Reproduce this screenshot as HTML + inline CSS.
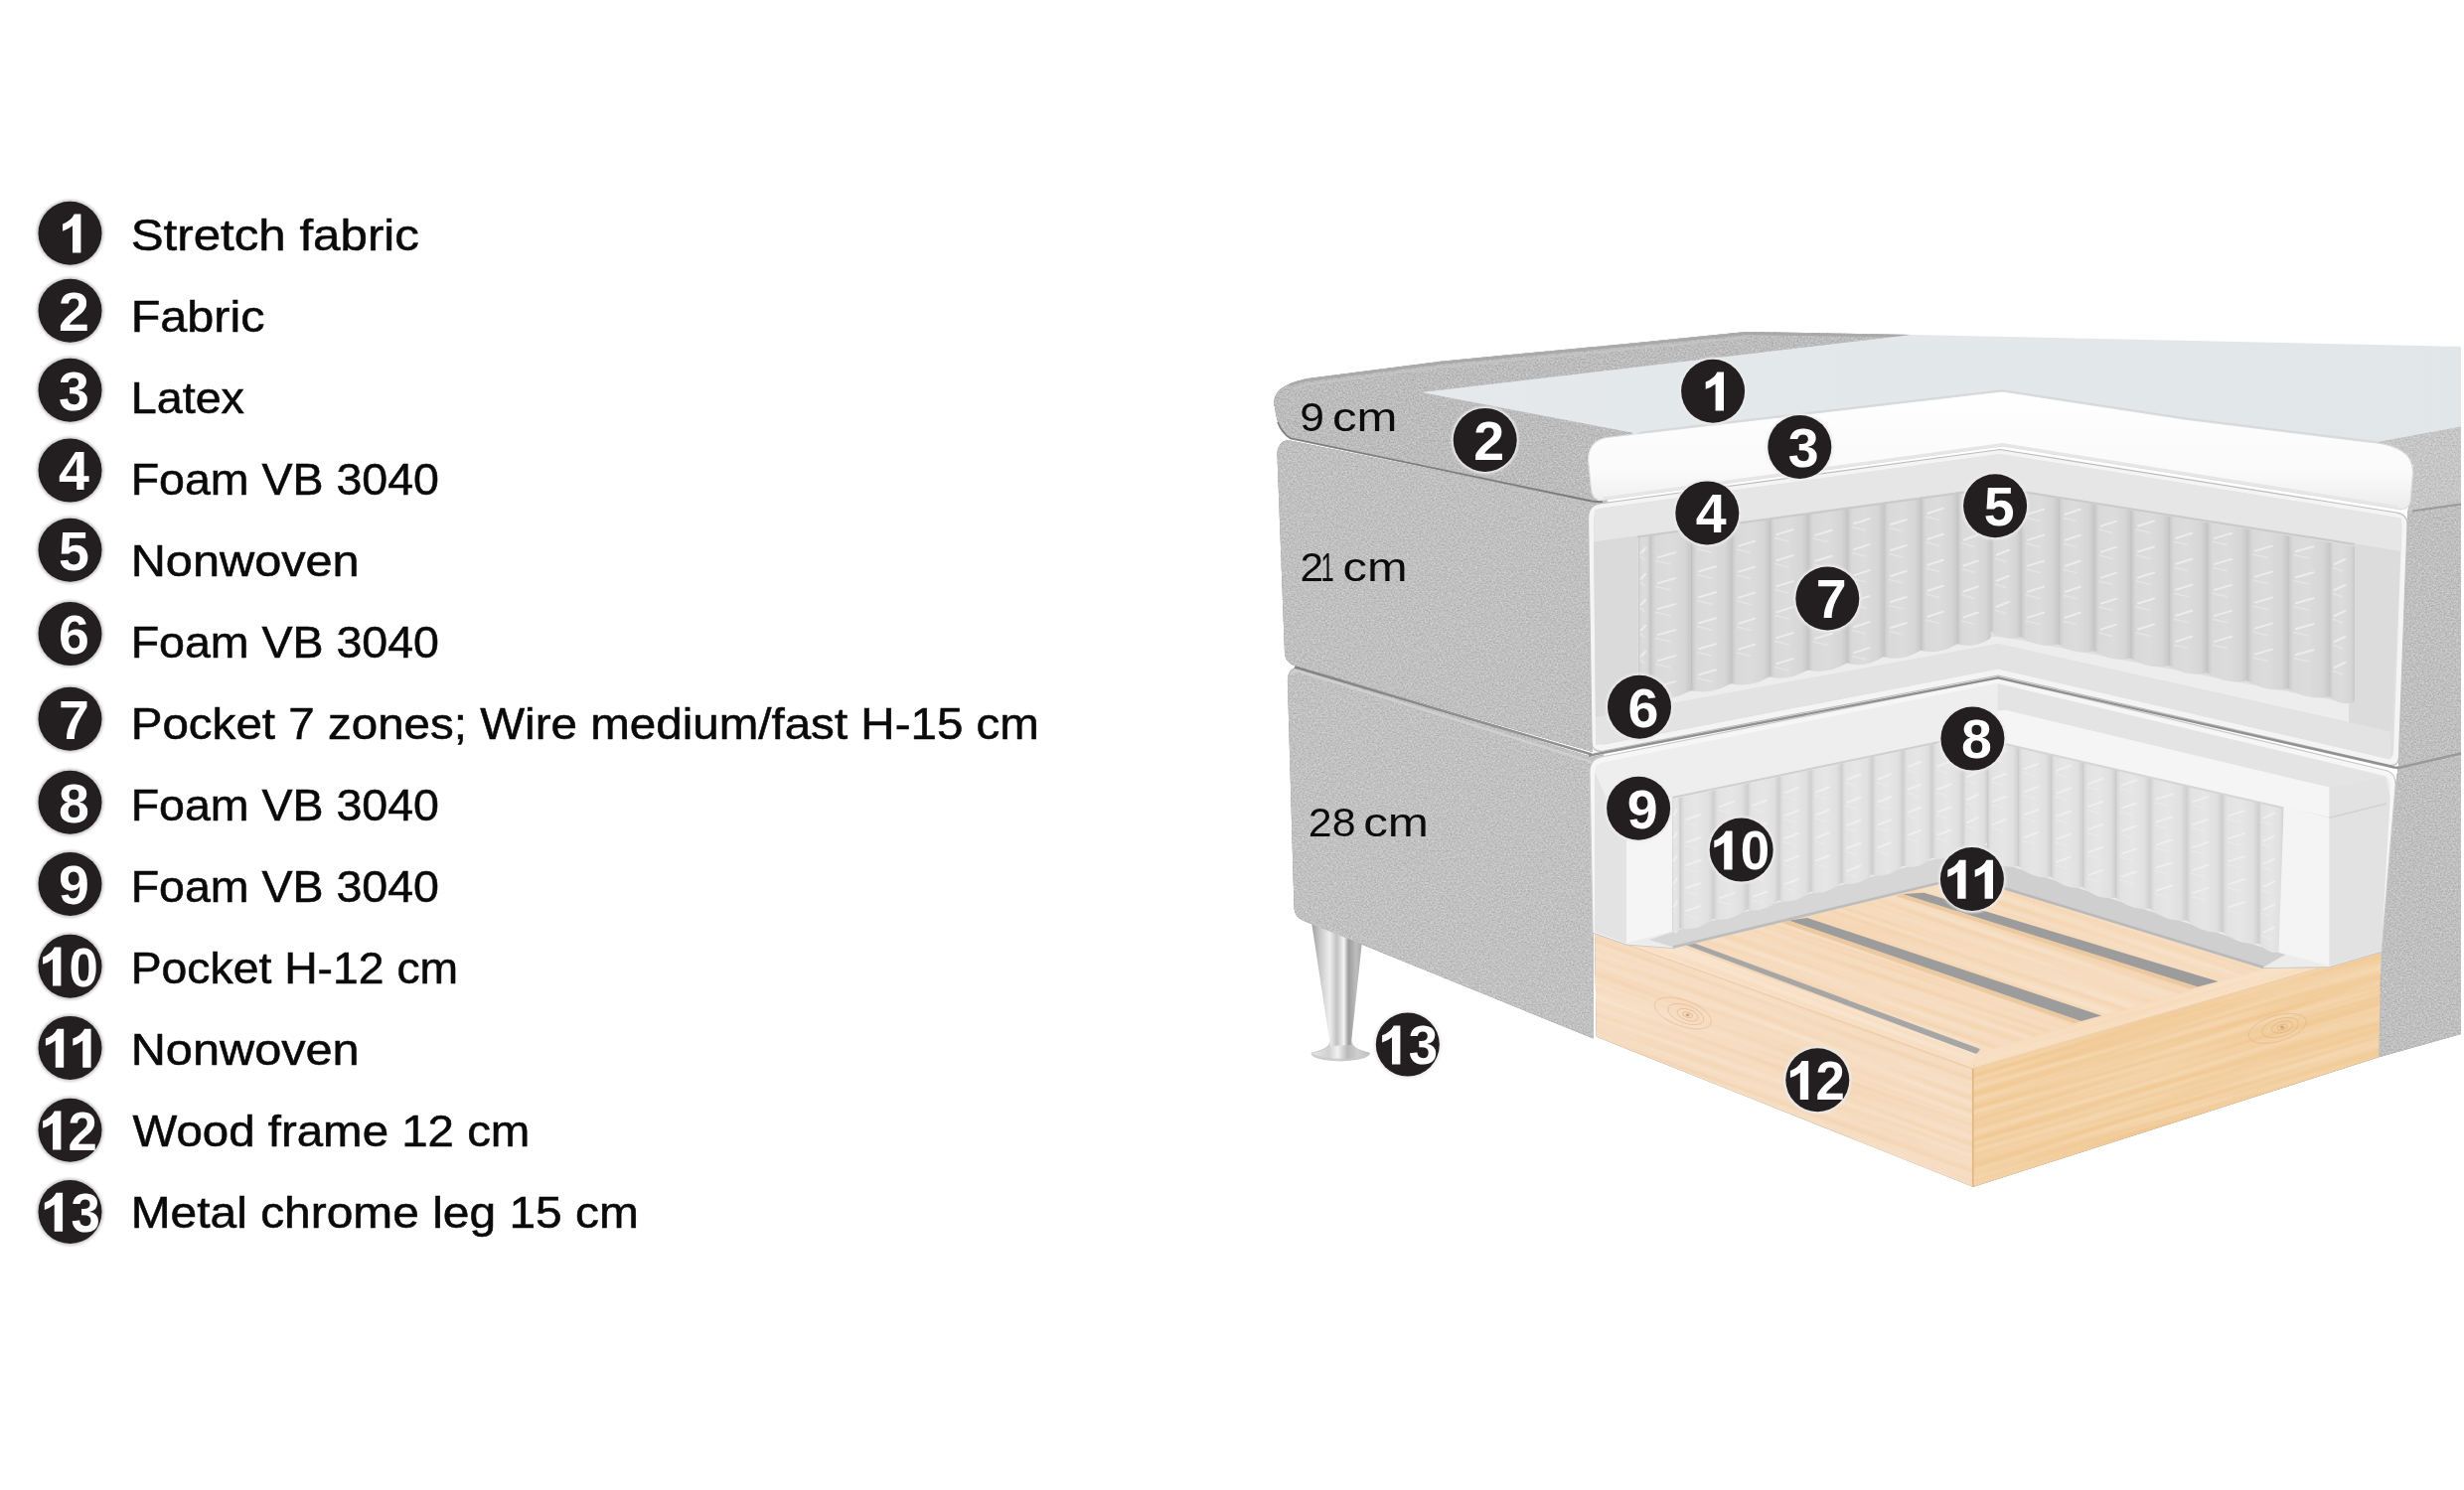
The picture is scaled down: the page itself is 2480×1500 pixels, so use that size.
<!DOCTYPE html>
<html lang="en">
<head>
<meta charset="utf-8">
<title>Bed construction</title>
<style>
html,body{margin:0;padding:0;background:#fff;}
body{width:2480px;height:1500px;overflow:hidden;font-family:"Liberation Sans",sans-serif;}
svg{display:block;}
.lbl{font-family:"Liberation Sans",sans-serif;font-size:45px;fill:#0a0a0a;stroke:#0a0a0a;stroke-width:0.55px;}
.dim{font-family:"Liberation Sans",sans-serif;font-size:41.5px;fill:#0c0c0c;}
.num{font-family:"Liberation Sans",sans-serif;font-weight:bold;font-size:55.5px;fill:#fff;text-anchor:middle;}
.num2{font-family:"Liberation Sans",sans-serif;font-weight:bold;font-size:55.5px;fill:#fff;text-anchor:start;}
.g1{fill:#fff;}
.disc{fill:#231f20;}
.halo{fill:#cfcfcf;}
.halo2{fill:#ececec;}
</style>
</head>
<body>
<svg width="2480" height="1500" viewBox="0 0 2480 1500">

<defs>
<filter id="nzFab" x="0" y="0" width="100%" height="100%" color-interpolation-filters="sRGB">
  <feTurbulence type="fractalNoise" baseFrequency="0.55 0.62" numOctaves="3" seed="7"/>
  <feColorMatrix type="matrix" values="0.5 0 0 0 0.25  0.5 0 0 0 0.25  0.5 0 0 0 0.25  0 0 0 0 1"/>
</filter>
<filter id="nzWood" x="0" y="0" width="100%" height="100%" color-interpolation-filters="sRGB">
  <feTurbulence type="fractalNoise" baseFrequency="0.004 0.16" numOctaves="2" seed="11"/>
  <feColorMatrix type="matrix" values="0.3 0 0 0 0.35  0.3 0 0 0 0.35  0.3 0 0 0 0.35  0 0 0 0 1"/>
</filter>
<filter id="soft" x="-5%" y="-5%" width="110%" height="110%"><feGaussianBlur stdDeviation="1.2"/></filter>
<filter id="soft05" x="-5%" y="-5%" width="110%" height="110%"><feGaussianBlur stdDeviation="0.6"/></filter>
<filter id="soft3" x="-5%" y="-5%" width="110%" height="110%"><feGaussianBlur stdDeviation="3"/></filter>
<linearGradient id="coilg" x1="0" y1="0" x2="1" y2="0">
  <stop offset="0" stop-color="#bdbdbd"/><stop offset="0.05" stop-color="#cdcdcd"/><stop offset="0.14" stop-color="#d9d9d9"/>
  <stop offset="0.5" stop-color="#dcdcdc"/><stop offset="0.85" stop-color="#d6d6d6"/>
  <stop offset="1" stop-color="#c8c8c8"/>
</linearGradient>
<linearGradient id="coilg2" x1="0" y1="0" x2="1" y2="0">
  <stop offset="0" stop-color="#c6c6c6"/><stop offset="0.05" stop-color="#d6d6d6"/><stop offset="0.14" stop-color="#e2e2e2"/>
  <stop offset="0.5" stop-color="#e6e6e6"/><stop offset="0.85" stop-color="#e0e0e0"/>
  <stop offset="1" stop-color="#d0d0d0"/>
</linearGradient>
<linearGradient id="legg" x1="0" y1="0" x2="1" y2="0">
  <stop offset="0" stop-color="#9f9f9f"/><stop offset="0.2" stop-color="#cfcfcf"/><stop offset="0.36" stop-color="#eeeeee"/>
  <stop offset="0.5" stop-color="#c2c2c2"/><stop offset="0.64" stop-color="#f4f4f4"/>
  <stop offset="0.73" stop-color="#9c9c9c"/><stop offset="0.88" stop-color="#bdbdbd"/><stop offset="1" stop-color="#a8a8a8"/>
</linearGradient>
<linearGradient id="footg" x1="0" y1="0" x2="1" y2="0">
  <stop offset="0" stop-color="#e9e9e9"/><stop offset="0.3" stop-color="#d0d0d0"/><stop offset="0.45" stop-color="#f1f1f1"/>
  <stop offset="0.62" stop-color="#b9b9b9"/><stop offset="0.8" stop-color="#cfcfcf"/><stop offset="1" stop-color="#bdbdbd"/>
</linearGradient>
<linearGradient id="latexg" x1="0" y1="0" x2="0" y2="1">
  <stop offset="0" stop-color="#ffffff"/><stop offset="0.7" stop-color="#fafafa"/><stop offset="1" stop-color="#ececec"/>
</linearGradient>
<linearGradient id="toppg" x1="0" y1="0" x2="0" y2="1">
  <stop offset="0" stop-color="#b4b4b4"/><stop offset="0.5" stop-color="#bcbcbc"/><stop offset="1" stop-color="#a8a8a8"/>
</linearGradient>
<linearGradient id="stretchg" x1="0" y1="0" x2="1" y2="0">
  <stop offset="0" stop-color="#e5e9ec"/><stop offset="1" stop-color="#e1e6e9"/>
</linearGradient>
</defs>
<g style="opacity:0.999">
<g id="bed">
<polygon points="2380.0,444.0 2477.0,429.0 2477.0,1041.0 2394.5,1064.3 2397.0,957.0 2411.0,790.0 2414.0,771.0 2423.0,520.0 2429.0,468.0" fill="#bfbfbf"/>
<polygon points="2380.0,444.0 2477.0,429.0 2477.0,507.5 2424.0,515.0 2429.0,468.0" fill="#c6c6c6"/>
<clipPath id="tc1">
<polygon points="2380.0,444.0 2477.0,429.0 2477.0,1041.0 2394.5,1064.3 2397.0,957.0 2411.0,790.0 2414.0,771.0 2423.0,520.0 2429.0,468.0" fill="#bfbfbf"/>
<polygon points="2380.0,444.0 2477.0,429.0 2477.0,507.5 2424.0,515.0 2429.0,468.0" fill="#c6c6c6"/>
</clipPath>
<g clip-path="url(#tc1)" style="mix-blend-mode:overlay"><rect x="2370" y="420" width="110" height="650" filter="url(#nzFab)"/></g>
<path d="M2428,514.5 L2477,507.5" stroke="#9a9a9a" stroke-width="2" fill="none"/>
<path d="M2414,773 L2477,758.5" stroke="#9a9a9a" stroke-width="2.5" fill="none"/>
<path d="M1339.5,1046 C1338.5,1055 1331,1057.5 1320,1060 Q1319.5,1066.5 1349,1068 Q1378.5,1066.5 1378.5,1060 C1368,1057.5 1360.5,1055 1359.5,1046 Z" fill="url(#footg)" stroke="#b5b5b5" stroke-width="0.6"/>
<path d="M1320,1060.5 Q1349,1071 1378.5,1060.5 Q1378,1066 1349,1068 Q1320,1066.5 1320,1060.5 Z" fill="#c9c9c9" opacity="0.8"/>
<polygon points="1320.0,928.0 1371.0,947.0 1359.8,1052.0 1339.0,1053.0" fill="url(#legg)"/>
<path d="M1282.5,409 C1281,396 1288,387 1316,381 L1450,363.7 L1515,357.5 L1642.5,345.5 L1757,334 L1924,337 L1924,345 L1430.5,395 L1648,435 L1640,437 L1625,499.5 L1602,504.5 L1298,441 Q1285,432 1283,409 Z" fill="#bcbcbc"/>
<path d="M1285.5,458 Q1285,445 1296,443 L1602,505 L1618,503.5 L1618,516 L1603,520 L1603,757 L1305,671 Q1294,668 1293,658 Z" fill="#c0c0c0"/>
<path d="M1296,688 Q1295,673 1306,671.5 L1602,762 L1614,759.5 L1614,775 L1603.5,780 L1603.5,1045.5 L1311,926.5 Q1303,923 1302.5,914 Z" fill="#c1c1c1"/>
<clipPath id="tc2">
<path d="M1282.5,409 C1281,396 1288,387 1316,381 L1450,363.7 L1515,357.5 L1642.5,345.5 L1757,334 L1924,337 L1924,345 L1430.5,395 L1648,435 L1640,437 L1625,499.5 L1602,504.5 L1298,441 Q1285,432 1283,409 Z" fill="#bcbcbc"/>
<path d="M1285.5,458 Q1285,445 1296,443 L1602,505 L1618,503.5 L1618,516 L1603,520 L1603,757 L1305,671 Q1294,668 1293,658 Z" fill="#c0c0c0"/>
<path d="M1296,688 Q1295,673 1306,671.5 L1602,762 L1614,759.5 L1614,775 L1603.5,780 L1603.5,1045.5 L1311,926.5 Q1303,923 1302.5,914 Z" fill="#c1c1c1"/>
</clipPath>
<g clip-path="url(#tc2)" style="mix-blend-mode:overlay"><rect x="1275" y="325" width="660" height="730" filter="url(#nzFab)"/></g>
<path d="M1298,388 Q1306,384 1318,382.5 L1450,365.5 L1515,359.3 L1642.5,347.3 L1757,335.8 L1920,338.5" stroke="#a8a8a8" stroke-width="2.6" fill="none" opacity="0.95"/>
<path d="M1302,392 Q1310,388 1320,386.5 L1450,369.5 L1515,363.3 L1642.5,351.3 L1757,339.8" stroke="#c6c6c6" stroke-width="2" fill="none" opacity="0.8"/>
<path d="M1286,425 Q1290,436 1299,441.5 L1602,504.5 L1613,505.5" stroke="#6c6c6c" stroke-width="1.8" fill="none" opacity="0.8" filter="url(#soft05)"/>
<path d="M1303,671.5 L1602,759.5" stroke="#767676" stroke-width="2.6" fill="none" opacity="0.8" filter="url(#soft05)"/>
<path d="M1299,679 Q1300,675.5 1307,675.5 L1602,767" stroke="#d2d2d2" stroke-width="2.5" fill="none" opacity="0.8"/>
<polygon points="1430.5,395.0 1924.0,337.0 2477.0,349.0 2477.0,429.5 2387.5,446.0 2200.0,423.0 2015.5,394.5 1650.0,437.0" fill="url(#stretchg)"/>
<path d="M1650,436 L2015.5,393.5 L2200,421.7 L2392,445.5" stroke="#d3d8d9" stroke-width="2.5" fill="none"/>
<polygon points="1640.0,945.0 1953.0,888.5 2010.0,878.0 2018.0,894.6 2278.0,973.7 2345.0,975.0 2396.0,946.0 1987.0,1066.0 1688.0,957.0" fill="#f6dbbd"/>
<clipPath id="tc3">
<polygon points="1640.0,945.0 1953.0,888.5 2010.0,878.0 2018.0,894.6 2278.0,973.7 2345.0,975.0 2396.0,946.0 1987.0,1066.0 1688.0,957.0" fill="#f6dbbd"/>
</clipPath>
<g clip-path="url(#tc3)" style="mix-blend-mode:overlay"><rect x="1560" y="720" width="920" height="520" transform="rotate(18.5 2020.0 980.0)" filter="url(#nzWood)"/></g>
<polygon points="1800.0,926.5 1819.0,924.0 2115.0,1022.4 2094.4,1028.0" fill="#9c9c9c"/>
<polygon points="1914.8,900.0 1936.5,898.8 2232.6,987.9 2212.0,993.5" fill="#9c9c9c"/>
<polygon points="1690.7,949.0 1700.0,947.5 1993.0,1056.0 1989.4,1061.3" fill="#a6a6a6"/>
<polygon points="1793.0,929.0 1800.0,926.5 2094.4,1028.0 2088.0,1030.2" fill="#e9c49a" opacity="0.8"/>
<polygon points="1907.5,902.0 1914.8,900.0 2212.0,993.5 2205.0,995.5" fill="#e9c49a" opacity="0.8"/>
<polygon points="1605.0,939.2 1986.2,1075.5 1986.2,1195.0 1606.7,1043.8" fill="#f6dcc0"/>
<polygon points="1605.0,939.7 1985.7,1076.0 1989.4,1061.3 1690.7,952.3 1606.0,921.4" fill="#f8e1c8"/>
<clipPath id="tc4">
<polygon points="1605.0,939.2 1986.2,1075.5 1986.2,1195.0 1606.7,1043.8" fill="#f6dcc0"/>
<polygon points="1605.0,939.7 1985.7,1076.0 1989.4,1061.3 1690.7,952.3 1606.0,921.4" fill="#f8e1c8"/>
</clipPath>
<g clip-path="url(#tc4)" style="mix-blend-mode:overlay"><rect x="1500" y="780" width="600" height="560" transform="rotate(19.7 1800.0 1060.0)" filter="url(#nzWood)"/></g>
<polygon points="1985.7,1075.5 2396.4,956.0 2394.5,1064.3 1985.7,1195.0" fill="#f3d0a2"/>
<polygon points="1985.7,1076.5 2396.4,957.0 2396.0,940.5 1988.5,1060.7" fill="#f8dfc2"/>
<clipPath id="tc5">
<polygon points="1985.7,1075.5 2396.4,956.0 2394.5,1064.3 1985.7,1195.0" fill="#f3d0a2"/>
<polygon points="1985.7,1076.5 2396.4,957.0 2396.0,940.5 1988.5,1060.7" fill="#f8dfc2"/>
</clipPath>
<g clip-path="url(#tc5)" style="mix-blend-mode:overlay"><rect x="1900" y="800" width="600" height="520" transform="rotate(-16.2 2200.0 1060.0)" filter="url(#nzWood)"/></g>
<path d="M1985.7,1075.5 L1985.7,1195" stroke="#e0b27c" stroke-width="1.5"/>
<path d="M1606,939.6 L1985.7,1075.8 L2396.4,956.6" stroke="#ecc9a0" stroke-width="1.2" fill="none" opacity="0.8"/>
<g transform="rotate(19.7 1698.6 1021.7)" fill="none" stroke="#dca878" opacity="0.55">
<ellipse cx="1698.6" cy="1021.7" rx="5" ry="2.6" stroke-width="1"/>
<ellipse cx="1698.6" cy="1021.7" rx="11" ry="5.5" stroke-width="0.9"/>
<ellipse cx="1696.6" cy="1021.7" rx="19" ry="9" stroke-width="0.8"/>
<ellipse cx="1693.6" cy="1021.7" rx="30" ry="13" stroke-width="0.7"/>
</g>
<ellipse cx="1698.6" cy="1021.7" rx="2" ry="1.5" fill="#b98e74" opacity="0.7"/>
<g transform="rotate(-16.2 2297.0 1034.0)" fill="none" stroke="#dca878" opacity="0.55">
<ellipse cx="2297.0" cy="1034.0" rx="5" ry="2.6" stroke-width="1"/>
<ellipse cx="2297.0" cy="1034.0" rx="11" ry="5.5" stroke-width="0.9"/>
<ellipse cx="2295.0" cy="1034.0" rx="19" ry="9" stroke-width="0.8"/>
<ellipse cx="2292.0" cy="1034.0" rx="30" ry="13" stroke-width="0.7"/>
</g>
<ellipse cx="2297.0" cy="1034.0" rx="2" ry="1.5" fill="#b98e74" opacity="0.7"/>
<path d="M1600,778 Q1600,764 1612,762 L2010.5,682.5 L2403,776 Q2412,779 2411,792 L2397,958 L2344.5,973.5 L2278,974.5 L2018,895 L2010,879 L1953,889 L1684,954.5 L1637,951 L1603,939 Z" fill="#f6f6f6" stroke="#c9c9c9" stroke-width="1.2"/>
<path d="M1605,780 Q1605,769 1614,767.5 L2010.5,688 L2400,781 Q2406,783 2405.7,792 L2396,957 L2344.5,972.4 L2278,973.7 L2018,894.6 L2010,878 L1953,888.5 L1684,953.4 L1637,949.6 L1605,938 Z" fill="#ececec"/>
<polygon points="2010.5,688.0 2401.0,781.5 2344.5,792.6 2018.0,714.8 2010.5,716.0" fill="#e4e4e4"/>
<polygon points="2010.0,716.0 2018.0,714.8 2344.5,792.6 2344.5,823.2 2018.0,748.0 2010.0,746.0" fill="#f5f5f5"/>
<polygon points="1606.0,770.0 2010.5,688.0 2010.5,734.0 1683.0,802.0 1637.0,847.0 1606.0,780.0" fill="#eeeeee"/>
<polygon points="1660.0,946.0 1690.0,936.0 2005.0,849.0 2005.0,876.0 1684.0,953.4" fill="#d6d6d6"/>
<polygon points="2005.0,866.0 2300.0,961.0 2278.0,973.7 2005.0,890.0" fill="#cfcfcf"/>
<path d="M1684,953.4 L2005,876" stroke="#bdbdbd" stroke-width="2.5" fill="none"/>
<path d="M2010,892 L2278,973.7" stroke="#b9b9b9" stroke-width="2.5" fill="none"/>
<path d="M1683.0,804.6 L1690.6,803.0 L1690.6,934.4 Q1686.8,943.8 1683.0,936.5 Z" fill="url(#coilg2)"/>
<path d="M1684.5,820.6 l3.2,-5.0 M1684.5,843.6 l3.2,-5.0 M1684.5,866.6 l3.2,-5.0 M1684.5,889.6 l3.2,-5.0 M1684.5,912.6 l3.2,-5.0" stroke="#f1f1f1" stroke-width="2" stroke-linecap="round" fill="none" opacity="0.75"/>
<path d="M1684.2,824.1 l2.6,3.2 M1684.2,847.1 l2.6,3.2 M1684.2,870.1 l2.6,3.2 M1684.2,893.1 l2.6,3.2 M1684.2,916.1 l2.6,3.2" stroke="#ededed" stroke-width="1.8" stroke-linecap="round" fill="none" opacity="0.5"/>
<path d="M1690.6,803.0 L1724.4,795.9 L1724.4,925.0 Q1707.5,938.1 1690.6,934.4 Z" fill="url(#coilg2)"/>
<path d="M1697.4,825.0 l14.2,-5.0 M1697.4,848.0 l14.2,-5.0 M1697.4,871.0 l14.2,-5.0 M1697.4,894.0 l14.2,-5.0 M1697.4,917.0 l14.2,-5.0" stroke="#f1f1f1" stroke-width="2" stroke-linecap="round" fill="none" opacity="0.75"/>
<path d="M1696.0,828.5 l11.5,3.2 M1696.0,851.5 l11.5,3.2 M1696.0,874.5 l11.5,3.2 M1696.0,897.5 l11.5,3.2 M1696.0,920.5 l11.5,3.2" stroke="#ededed" stroke-width="1.8" stroke-linecap="round" fill="none" opacity="0.5"/>
<path d="M1724.4,795.9 L1758.3,788.7 L1758.3,915.5 Q1741.3,928.6 1724.4,925.0 Z" fill="url(#coilg2)"/>
<path d="M1731.2,811.9 l14.2,-5.0 M1731.2,834.9 l14.2,-5.0 M1731.2,857.9 l14.2,-5.0 M1731.2,880.9 l14.2,-5.0 M1731.2,903.9 l14.2,-5.0" stroke="#f1f1f1" stroke-width="2" stroke-linecap="round" fill="none" opacity="0.75"/>
<path d="M1729.8,815.4 l11.5,3.2 M1729.8,838.4 l11.5,3.2 M1729.8,861.4 l11.5,3.2 M1729.8,884.4 l11.5,3.2 M1729.8,907.4 l11.5,3.2" stroke="#ededed" stroke-width="1.8" stroke-linecap="round" fill="none" opacity="0.5"/>
<path d="M1758.3,788.7 L1790.2,782.0 L1790.2,906.6 Q1774.2,919.5 1758.3,915.5 Z" fill="url(#coilg2)"/>
<path d="M1764.7,810.7 l13.4,-5.0 M1764.7,833.7 l13.4,-5.0 M1764.7,856.7 l13.4,-5.0 M1764.7,879.7 l13.4,-5.0 M1764.7,902.7 l13.4,-5.0" stroke="#f1f1f1" stroke-width="2" stroke-linecap="round" fill="none" opacity="0.75"/>
<path d="M1763.4,814.2 l10.8,3.2 M1763.4,837.2 l10.8,3.2 M1763.4,860.2 l10.8,3.2 M1763.4,883.2 l10.8,3.2 M1763.4,906.2 l10.8,3.2" stroke="#ededed" stroke-width="1.8" stroke-linecap="round" fill="none" opacity="0.5"/>
<path d="M1790.2,782.0 L1822.2,775.3 L1822.2,897.7 Q1806.2,910.6 1790.2,906.6 Z" fill="url(#coilg2)"/>
<path d="M1796.6,798.0 l13.4,-5.0 M1796.6,821.0 l13.4,-5.0 M1796.6,844.0 l13.4,-5.0 M1796.6,867.0 l13.4,-5.0 M1796.6,890.0 l13.4,-5.0" stroke="#f1f1f1" stroke-width="2" stroke-linecap="round" fill="none" opacity="0.75"/>
<path d="M1795.3,801.5 l10.9,3.2 M1795.3,824.5 l10.9,3.2 M1795.3,847.5 l10.9,3.2 M1795.3,870.5 l10.9,3.2 M1795.3,893.5 l10.9,3.2" stroke="#ededed" stroke-width="1.8" stroke-linecap="round" fill="none" opacity="0.5"/>
<path d="M1822.2,775.3 L1853.2,768.7 L1853.2,889.1 Q1837.7,901.8 1822.2,897.7 Z" fill="url(#coilg2)"/>
<path d="M1828.4,797.3 l13.0,-5.0 M1828.4,820.3 l13.0,-5.0 M1828.4,843.3 l13.0,-5.0 M1828.4,866.3 l13.0,-5.0" stroke="#f1f1f1" stroke-width="2" stroke-linecap="round" fill="none" opacity="0.75"/>
<path d="M1827.2,800.8 l10.5,3.2 M1827.2,823.8 l10.5,3.2 M1827.2,846.8 l10.5,3.2 M1827.2,869.8 l10.5,3.2" stroke="#ededed" stroke-width="1.8" stroke-linecap="round" fill="none" opacity="0.5"/>
<path d="M1853.2,768.7 L1884.2,762.2 L1884.2,880.5 Q1868.7,893.2 1853.2,889.1 Z" fill="url(#coilg2)"/>
<path d="M1859.4,784.7 l13.0,-5.0 M1859.4,807.7 l13.0,-5.0 M1859.4,830.7 l13.0,-5.0 M1859.4,853.7 l13.0,-5.0 M1859.4,876.7 l13.0,-5.0" stroke="#f1f1f1" stroke-width="2" stroke-linecap="round" fill="none" opacity="0.75"/>
<path d="M1858.2,788.2 l10.5,3.2 M1858.2,811.2 l10.5,3.2 M1858.2,834.2 l10.5,3.2 M1858.2,857.2 l10.5,3.2 M1858.2,880.2 l10.5,3.2" stroke="#ededed" stroke-width="1.8" stroke-linecap="round" fill="none" opacity="0.5"/>
<path d="M1884.2,762.2 L1915.2,755.7 L1915.2,871.8 Q1899.7,884.5 1884.2,880.5 Z" fill="url(#coilg2)"/>
<path d="M1890.4,784.2 l13.0,-5.0 M1890.4,807.2 l13.0,-5.0 M1890.4,830.2 l13.0,-5.0 M1890.4,853.2 l13.0,-5.0" stroke="#f1f1f1" stroke-width="2" stroke-linecap="round" fill="none" opacity="0.75"/>
<path d="M1889.2,787.7 l10.5,3.2 M1889.2,810.7 l10.5,3.2 M1889.2,833.7 l10.5,3.2 M1889.2,856.7 l10.5,3.2" stroke="#ededed" stroke-width="1.8" stroke-linecap="round" fill="none" opacity="0.5"/>
<path d="M1915.2,755.7 L1944.4,749.5 L1944.4,863.7 Q1929.8,876.2 1915.2,871.8 Z" fill="url(#coilg2)"/>
<path d="M1921.0,771.7 l12.3,-5.0 M1921.0,794.7 l12.3,-5.0 M1921.0,817.7 l12.3,-5.0 M1921.0,840.7 l12.3,-5.0" stroke="#f1f1f1" stroke-width="2" stroke-linecap="round" fill="none" opacity="0.75"/>
<path d="M1919.9,775.2 l9.9,3.2 M1919.9,798.2 l9.9,3.2 M1919.9,821.2 l9.9,3.2 M1919.9,844.2 l9.9,3.2" stroke="#ededed" stroke-width="1.8" stroke-linecap="round" fill="none" opacity="0.5"/>
<path d="M1944.4,749.5 L1975.4,743.0 L1975.4,855.1 Q1959.9,867.8 1944.4,863.7 Z" fill="url(#coilg2)"/>
<path d="M1950.6,771.5 l13.0,-5.0 M1950.6,794.5 l13.0,-5.0 M1950.6,817.5 l13.0,-5.0 M1950.6,840.5 l13.0,-5.0" stroke="#f1f1f1" stroke-width="2" stroke-linecap="round" fill="none" opacity="0.75"/>
<path d="M1949.4,775.0 l10.5,3.2 M1949.4,798.0 l10.5,3.2 M1949.4,821.0 l10.5,3.2 M1949.4,844.0 l10.5,3.2" stroke="#ededed" stroke-width="1.8" stroke-linecap="round" fill="none" opacity="0.5"/>
<path d="M1975.4,743.0 L2000.0,737.8 L2000.0,848.2 Q1987.7,860.0 1975.4,855.1 Z" fill="url(#coilg2)"/>
<path d="M1980.3,759.0 l10.3,-5.0 M1980.3,782.0 l10.3,-5.0 M1980.3,805.0 l10.3,-5.0 M1980.3,828.0 l10.3,-5.0" stroke="#f1f1f1" stroke-width="2" stroke-linecap="round" fill="none" opacity="0.75"/>
<path d="M1979.3,762.5 l8.4,3.2 M1979.3,785.5 l8.4,3.2 M1979.3,808.5 l8.4,3.2 M1979.3,831.5 l8.4,3.2" stroke="#ededed" stroke-width="1.8" stroke-linecap="round" fill="none" opacity="0.5"/>
<path d="M2000.0,744.9 L2030.9,752.0 L2030.9,872.1 Q2015.5,875.6 2000.0,862.2 Z" fill="url(#coilg2)"/>
<path d="M2006.2,760.9 l13.0,-5.0 M2006.2,783.9 l13.0,-5.0 M2006.2,806.9 l13.0,-5.0 M2006.2,829.9 l13.0,-5.0" stroke="#f1f1f1" stroke-width="2" stroke-linecap="round" fill="none" opacity="0.75"/>
<path d="M2004.9,764.4 l10.5,3.2 M2004.9,787.4 l10.5,3.2 M2004.9,810.4 l10.5,3.2 M2004.9,833.4 l10.5,3.2" stroke="#ededed" stroke-width="1.8" stroke-linecap="round" fill="none" opacity="0.5"/>
<path d="M2030.9,752.0 L2064.0,759.6 L2064.0,882.8 Q2047.5,885.8 2030.9,872.1 Z" fill="url(#coilg2)"/>
<path d="M2037.5,774.0 l13.9,-5.0 M2037.5,797.0 l13.9,-5.0 M2037.5,820.0 l13.9,-5.0 M2037.5,843.0 l13.9,-5.0" stroke="#f1f1f1" stroke-width="2" stroke-linecap="round" fill="none" opacity="0.75"/>
<path d="M2036.2,777.5 l11.3,3.2 M2036.2,800.5 l11.3,3.2 M2036.2,823.5 l11.3,3.2 M2036.2,846.5 l11.3,3.2" stroke="#ededed" stroke-width="1.8" stroke-linecap="round" fill="none" opacity="0.5"/>
<path d="M2064.0,759.6 L2095.9,766.9 L2095.9,893.0 Q2079.9,896.3 2064.0,882.8 Z" fill="url(#coilg2)"/>
<path d="M2070.4,775.6 l13.4,-5.0 M2070.4,798.6 l13.4,-5.0 M2070.4,821.6 l13.4,-5.0 M2070.4,844.6 l13.4,-5.0 M2070.4,867.6 l13.4,-5.0" stroke="#f1f1f1" stroke-width="2" stroke-linecap="round" fill="none" opacity="0.75"/>
<path d="M2069.1,779.1 l10.8,3.2 M2069.1,802.1 l10.8,3.2 M2069.1,825.1 l10.8,3.2 M2069.1,848.1 l10.8,3.2 M2069.1,871.1 l10.8,3.2" stroke="#ededed" stroke-width="1.8" stroke-linecap="round" fill="none" opacity="0.5"/>
<path d="M2095.9,766.9 L2129.0,774.5 L2129.0,903.6 Q2112.4,906.7 2095.9,893.0 Z" fill="url(#coilg2)"/>
<path d="M2102.5,788.9 l13.9,-5.0 M2102.5,811.9 l13.9,-5.0 M2102.5,834.9 l13.9,-5.0 M2102.5,857.9 l13.9,-5.0 M2102.5,880.9 l13.9,-5.0" stroke="#f1f1f1" stroke-width="2" stroke-linecap="round" fill="none" opacity="0.75"/>
<path d="M2101.2,792.4 l11.3,3.2 M2101.2,815.4 l11.3,3.2 M2101.2,838.4 l11.3,3.2 M2101.2,861.4 l11.3,3.2 M2101.2,884.4 l11.3,3.2" stroke="#ededed" stroke-width="1.8" stroke-linecap="round" fill="none" opacity="0.5"/>
<path d="M2129.0,774.5 L2163.5,782.4 L2163.5,914.7 Q2146.2,917.5 2129.0,903.6 Z" fill="url(#coilg2)"/>
<path d="M2135.9,790.5 l14.5,-5.0 M2135.9,813.5 l14.5,-5.0 M2135.9,836.5 l14.5,-5.0 M2135.9,859.5 l14.5,-5.0 M2135.9,882.5 l14.5,-5.0" stroke="#f1f1f1" stroke-width="2" stroke-linecap="round" fill="none" opacity="0.75"/>
<path d="M2134.5,794.0 l11.7,3.2 M2134.5,817.0 l11.7,3.2 M2134.5,840.0 l11.7,3.2 M2134.5,863.0 l11.7,3.2 M2134.5,886.0 l11.7,3.2" stroke="#ededed" stroke-width="1.8" stroke-linecap="round" fill="none" opacity="0.5"/>
<path d="M2163.5,782.4 L2200.4,790.9 L2200.4,926.5 Q2181.9,929.0 2163.5,914.7 Z" fill="url(#coilg2)"/>
<path d="M2170.9,804.4 l15.5,-5.0 M2170.9,827.4 l15.5,-5.0 M2170.9,850.4 l15.5,-5.0 M2170.9,873.4 l15.5,-5.0 M2170.9,896.4 l15.5,-5.0" stroke="#f1f1f1" stroke-width="2" stroke-linecap="round" fill="none" opacity="0.75"/>
<path d="M2169.4,807.9 l12.5,3.2 M2169.4,830.9 l12.5,3.2 M2169.4,853.9 l12.5,3.2 M2169.4,876.9 l12.5,3.2 M2169.4,899.9 l12.5,3.2" stroke="#ededed" stroke-width="1.8" stroke-linecap="round" fill="none" opacity="0.5"/>
<path d="M2200.4,790.9 L2236.1,799.1 L2236.1,938.0 Q2218.2,940.7 2200.4,926.5 Z" fill="url(#coilg2)"/>
<path d="M2207.5,806.9 l15.0,-5.0 M2207.5,829.9 l15.0,-5.0 M2207.5,852.9 l15.0,-5.0 M2207.5,875.9 l15.0,-5.0 M2207.5,898.9 l15.0,-5.0" stroke="#f1f1f1" stroke-width="2" stroke-linecap="round" fill="none" opacity="0.75"/>
<path d="M2206.1,810.4 l12.1,3.2 M2206.1,833.4 l12.1,3.2 M2206.1,856.4 l12.1,3.2 M2206.1,879.4 l12.1,3.2 M2206.1,902.4 l12.1,3.2" stroke="#ededed" stroke-width="1.8" stroke-linecap="round" fill="none" opacity="0.5"/>
<path d="M2236.1,799.1 L2273.1,807.6 L2273.1,949.9 Q2254.6,952.3 2236.1,938.0 Z" fill="url(#coilg2)"/>
<path d="M2243.5,821.1 l15.5,-5.0 M2243.5,844.1 l15.5,-5.0 M2243.5,867.1 l15.5,-5.0 M2243.5,890.1 l15.5,-5.0 M2243.5,913.1 l15.5,-5.0" stroke="#f1f1f1" stroke-width="2" stroke-linecap="round" fill="none" opacity="0.75"/>
<path d="M2242.0,824.6 l12.6,3.2 M2242.0,847.6 l12.6,3.2 M2242.0,870.6 l12.6,3.2 M2242.0,893.6 l12.6,3.2 M2242.0,916.6 l12.6,3.2" stroke="#ededed" stroke-width="1.8" stroke-linecap="round" fill="none" opacity="0.5"/>
<path d="M2273.1,807.6 L2298.6,813.5 L2298.6,958.0 Q2285.8,962.3 2273.1,949.9 Z" fill="url(#coilg2)"/>
<path d="M2278.2,823.6 l10.7,-5.0 M2278.2,846.6 l10.7,-5.0 M2278.2,869.6 l10.7,-5.0 M2278.2,892.6 l10.7,-5.0 M2278.2,915.6 l10.7,-5.0 M2278.2,938.6 l10.7,-5.0" stroke="#f1f1f1" stroke-width="2" stroke-linecap="round" fill="none" opacity="0.75"/>
<path d="M2277.2,827.1 l8.7,3.2 M2277.2,850.1 l8.7,3.2 M2277.2,873.1 l8.7,3.2 M2277.2,896.1 l8.7,3.2 M2277.2,919.1 l8.7,3.2 M2277.2,942.1 l8.7,3.2" stroke="#ededed" stroke-width="1.8" stroke-linecap="round" fill="none" opacity="0.5"/>
<path d="M1683,803 L2005,736" stroke="#cfcfcf" stroke-width="2" fill="none"/>
<path d="M2018,749 L2344.5,824" stroke="#d5d5d5" stroke-width="2" fill="none"/>
<polygon points="1605.0,777.6 1637.0,847.0 1637.0,949.6 1605.0,938.0" fill="#e3e3e3"/>
<polygon points="1637.0,847.0 1683.0,802.0 1683.0,937.4 1637.0,949.6" fill="#f5f5f5"/>
<polygon points="2298.6,812.0 2344.5,823.2 2344.5,972.4 2293.5,958.4" fill="#f4f4f4"/>
<polygon points="2344.5,792.6 2401.0,781.5 2405.7,802.8 2396.8,957.0 2344.5,972.4" fill="#e2e2e2"/>
<path d="M2344.5,823.2 L2402,809" stroke="#d2d2d2" stroke-width="1.5" fill="none"/>
<path d="M1598.5,522 Q1598.5,509 1610,507 L2013,452.5 L2412,516 Q2424,518 2423,530 L2414.5,762 Q2414,772 2404,770 L2011,680 L1614,756 Q1602,758 1602,746 Z" fill="#f4f4f4" stroke="#bdbdbd" stroke-width="1.2"/>
<path d="M1604,524 Q1604,513 1613,511.5 L2013,457 L2410,520.5 Q2418,522 2417.5,530 L2409,757 Q2408.5,765 2402,763.5 L2011,673.5 L1615,749.5 Q1606,751 1606,742 Z" fill="#dfdfdf"/>
<polygon points="1605.0,513.0 2013.0,457.0 2417.0,521.5 2416.0,555.0 2010.0,490.0 1604.0,545.5" fill="#e6e6e6"/>
<polygon points="1604.0,545.5 1648.0,539.5 1648.0,715.0 1606.0,722.0" fill="#dadada"/>
<polygon points="2370.0,547.5 2416.0,555.0 2407.0,737.0 2364.0,727.0" fill="#dcdcdc"/>
<polygon points="1648.0,706.0 2005.0,641.0 2018.0,641.5 2364.0,708.0 2364.0,727.0 2011.0,648.0 1648.0,714.5" fill="#ededed"/>
<polygon points="1606.0,722.0 2011.0,648.0 2407.0,737.0 2406.0,764.5 2011.0,673.5 1606.0,750.0" fill="#e3e3e3"/>
<path d="M1649.2,540.7 L1660.5,539.1 L1660.5,702.2 Q1654.8,711.6 1649.2,704.1 Z" fill="url(#coilg)"/>
<path d="M1651.5,556.7 l4.7,-5.0 M1651.5,582.7 l4.7,-5.0 M1651.5,608.7 l4.7,-5.0 M1651.5,634.7 l4.7,-5.0 M1651.5,660.7 l4.7,-5.0 M1651.5,686.7 l4.7,-5.0" stroke="#f1f1f1" stroke-width="2" stroke-linecap="round" fill="none" opacity="0.75"/>
<path d="M1651.0,560.2 l3.8,3.2 M1651.0,586.2 l3.8,3.2 M1651.0,612.2 l3.8,3.2 M1651.0,638.2 l3.8,3.2 M1651.0,664.2 l3.8,3.2 M1651.0,690.2 l3.8,3.2" stroke="#ededed" stroke-width="1.8" stroke-linecap="round" fill="none" opacity="0.5"/>
<path d="M1660.5,539.1 L1701.9,533.3 L1701.9,695.0 Q1681.2,707.0 1660.5,702.2 Z" fill="url(#coilg)"/>
<path d="M1668.8,561.1 l17.4,-5.0 M1668.8,587.1 l17.4,-5.0 M1668.8,613.1 l17.4,-5.0 M1668.8,639.1 l17.4,-5.0 M1668.8,665.1 l17.4,-5.0 M1668.8,691.1 l17.4,-5.0" stroke="#f1f1f1" stroke-width="2" stroke-linecap="round" fill="none" opacity="0.75"/>
<path d="M1667.1,564.6 l14.1,3.2 M1667.1,590.6 l14.1,3.2 M1667.1,616.6 l14.1,3.2 M1667.1,642.6 l14.1,3.2 M1667.1,668.6 l14.1,3.2 M1667.1,694.6 l14.1,3.2" stroke="#ededed" stroke-width="1.8" stroke-linecap="round" fill="none" opacity="0.5"/>
<path d="M1701.9,533.3 L1742.3,527.6 L1742.3,687.9 Q1722.1,699.8 1701.9,695.0 Z" fill="url(#coilg)"/>
<path d="M1710.0,549.3 l17.0,-5.0 M1710.0,575.3 l17.0,-5.0 M1710.0,601.3 l17.0,-5.0 M1710.0,627.3 l17.0,-5.0 M1710.0,653.3 l17.0,-5.0 M1710.0,679.3 l17.0,-5.0" stroke="#f1f1f1" stroke-width="2" stroke-linecap="round" fill="none" opacity="0.75"/>
<path d="M1708.4,552.8 l13.7,3.2 M1708.4,578.8 l13.7,3.2 M1708.4,604.8 l13.7,3.2 M1708.4,630.8 l13.7,3.2 M1708.4,656.8 l13.7,3.2 M1708.4,682.8 l13.7,3.2" stroke="#ededed" stroke-width="1.8" stroke-linecap="round" fill="none" opacity="0.5"/>
<path d="M1742.3,527.6 L1780.8,522.1 L1780.8,681.2 Q1761.5,693.0 1742.3,687.9 Z" fill="url(#coilg)"/>
<path d="M1750.0,549.6 l16.2,-5.0 M1750.0,575.6 l16.2,-5.0 M1750.0,601.6 l16.2,-5.0 M1750.0,627.6 l16.2,-5.0 M1750.0,653.6 l16.2,-5.0" stroke="#f1f1f1" stroke-width="2" stroke-linecap="round" fill="none" opacity="0.75"/>
<path d="M1748.5,553.1 l13.1,3.2 M1748.5,579.1 l13.1,3.2 M1748.5,605.1 l13.1,3.2 M1748.5,631.1 l13.1,3.2 M1748.5,657.1 l13.1,3.2" stroke="#ededed" stroke-width="1.8" stroke-linecap="round" fill="none" opacity="0.5"/>
<path d="M1780.8,522.1 L1819.4,516.7 L1819.4,674.5 Q1800.1,686.3 1780.8,681.2 Z" fill="url(#coilg)"/>
<path d="M1788.5,538.1 l16.2,-5.0 M1788.5,564.1 l16.2,-5.0 M1788.5,590.1 l16.2,-5.0 M1788.5,616.1 l16.2,-5.0 M1788.5,642.1 l16.2,-5.0 M1788.5,668.1 l16.2,-5.0" stroke="#f1f1f1" stroke-width="2" stroke-linecap="round" fill="none" opacity="0.75"/>
<path d="M1787.0,541.6 l13.1,3.2 M1787.0,567.6 l13.1,3.2 M1787.0,593.6 l13.1,3.2 M1787.0,619.6 l13.1,3.2 M1787.0,645.6 l13.1,3.2 M1787.0,671.6 l13.1,3.2" stroke="#ededed" stroke-width="1.8" stroke-linecap="round" fill="none" opacity="0.5"/>
<path d="M1819.4,516.7 L1858.8,511.1 L1858.8,667.6 Q1839.1,679.5 1819.4,674.5 Z" fill="url(#coilg)"/>
<path d="M1827.3,538.7 l16.5,-5.0 M1827.3,564.7 l16.5,-5.0 M1827.3,590.7 l16.5,-5.0 M1827.3,616.7 l16.5,-5.0 M1827.3,642.7 l16.5,-5.0" stroke="#f1f1f1" stroke-width="2" stroke-linecap="round" fill="none" opacity="0.75"/>
<path d="M1825.7,542.2 l13.4,3.2 M1825.7,568.2 l13.4,3.2 M1825.7,594.2 l13.4,3.2 M1825.7,620.2 l13.4,3.2 M1825.7,646.2 l13.4,3.2" stroke="#ededed" stroke-width="1.8" stroke-linecap="round" fill="none" opacity="0.5"/>
<path d="M1858.8,511.1 L1895.5,506.0 L1895.5,661.3 Q1877.2,672.9 1858.8,667.6 Z" fill="url(#coilg)"/>
<path d="M1866.1,527.1 l15.4,-5.0 M1866.1,553.1 l15.4,-5.0 M1866.1,579.1 l15.4,-5.0 M1866.1,605.1 l15.4,-5.0 M1866.1,631.1 l15.4,-5.0 M1866.1,657.1 l15.4,-5.0" stroke="#f1f1f1" stroke-width="2" stroke-linecap="round" fill="none" opacity="0.75"/>
<path d="M1864.7,530.6 l12.5,3.2 M1864.7,556.6 l12.5,3.2 M1864.7,582.6 l12.5,3.2 M1864.7,608.6 l12.5,3.2 M1864.7,634.6 l12.5,3.2 M1864.7,660.6 l12.5,3.2" stroke="#ededed" stroke-width="1.8" stroke-linecap="round" fill="none" opacity="0.5"/>
<path d="M1895.5,506.0 L1933.1,500.7 L1933.1,654.7 Q1914.3,666.4 1895.5,661.3 Z" fill="url(#coilg)"/>
<path d="M1903.0,528.0 l15.8,-5.0 M1903.0,554.0 l15.8,-5.0 M1903.0,580.0 l15.8,-5.0 M1903.0,606.0 l15.8,-5.0 M1903.0,632.0 l15.8,-5.0" stroke="#f1f1f1" stroke-width="2" stroke-linecap="round" fill="none" opacity="0.75"/>
<path d="M1901.5,531.5 l12.8,3.2 M1901.5,557.5 l12.8,3.2 M1901.5,583.5 l12.8,3.2 M1901.5,609.5 l12.8,3.2 M1901.5,635.5 l12.8,3.2" stroke="#ededed" stroke-width="1.8" stroke-linecap="round" fill="none" opacity="0.5"/>
<path d="M1933.1,500.7 L1969.8,495.5 L1969.8,648.3 Q1951.4,659.9 1933.1,654.7 Z" fill="url(#coilg)"/>
<path d="M1940.4,516.7 l15.4,-5.0 M1940.4,542.7 l15.4,-5.0 M1940.4,568.7 l15.4,-5.0 M1940.4,594.7 l15.4,-5.0 M1940.4,620.7 l15.4,-5.0" stroke="#f1f1f1" stroke-width="2" stroke-linecap="round" fill="none" opacity="0.75"/>
<path d="M1939.0,520.2 l12.5,3.2 M1939.0,546.2 l12.5,3.2 M1939.0,572.2 l12.5,3.2 M1939.0,598.2 l12.5,3.2 M1939.0,624.2 l12.5,3.2" stroke="#ededed" stroke-width="1.8" stroke-linecap="round" fill="none" opacity="0.5"/>
<path d="M1969.8,495.5 L2003.6,490.7 L2003.6,642.4 Q1986.7,653.8 1969.8,648.3 Z" fill="url(#coilg)"/>
<path d="M1976.6,517.5 l14.2,-5.0 M1976.6,543.5 l14.2,-5.0 M1976.6,569.5 l14.2,-5.0 M1976.6,595.5 l14.2,-5.0 M1976.6,621.5 l14.2,-5.0" stroke="#f1f1f1" stroke-width="2" stroke-linecap="round" fill="none" opacity="0.75"/>
<path d="M1975.2,521.0 l11.5,3.2 M1975.2,547.0 l11.5,3.2 M1975.2,573.0 l11.5,3.2 M1975.2,599.0 l11.5,3.2 M1975.2,625.0 l11.5,3.2" stroke="#ededed" stroke-width="1.8" stroke-linecap="round" fill="none" opacity="0.5"/>
<path d="M2003.6,490.7 L2033.4,495.6 L2033.4,641.0 Q2018.5,646.5 2003.6,635.2 Z" fill="url(#coilg)"/>
<path d="M2009.6,506.7 l12.5,-5.0 M2009.6,532.7 l12.5,-5.0 M2009.6,558.7 l12.5,-5.0 M2009.6,584.7 l12.5,-5.0 M2009.6,610.7 l12.5,-5.0" stroke="#f1f1f1" stroke-width="2" stroke-linecap="round" fill="none" opacity="0.75"/>
<path d="M2008.4,510.2 l10.1,3.2 M2008.4,536.2 l10.1,3.2 M2008.4,562.2 l10.1,3.2 M2008.4,588.2 l10.1,3.2 M2008.4,614.2 l10.1,3.2" stroke="#ededed" stroke-width="1.8" stroke-linecap="round" fill="none" opacity="0.5"/>
<path d="M2033.4,495.6 L2071.7,501.8 L2071.7,648.4 Q2052.6,653.1 2033.4,641.0 Z" fill="url(#coilg)"/>
<path d="M2041.1,517.6 l16.1,-5.0 M2041.1,543.6 l16.1,-5.0 M2041.1,569.6 l16.1,-5.0 M2041.1,595.6 l16.1,-5.0 M2041.1,621.6 l16.1,-5.0" stroke="#f1f1f1" stroke-width="2" stroke-linecap="round" fill="none" opacity="0.75"/>
<path d="M2039.5,521.1 l13.0,3.2 M2039.5,547.1 l13.0,3.2 M2039.5,573.1 l13.0,3.2 M2039.5,599.1 l13.0,3.2 M2039.5,625.1 l13.0,3.2" stroke="#ededed" stroke-width="1.8" stroke-linecap="round" fill="none" opacity="0.5"/>
<path d="M2071.7,501.8 L2107.4,507.6 L2107.4,655.3 Q2089.6,660.3 2071.7,648.4 Z" fill="url(#coilg)"/>
<path d="M2078.8,517.8 l15.0,-5.0 M2078.8,543.8 l15.0,-5.0 M2078.8,569.8 l15.0,-5.0 M2078.8,595.8 l15.0,-5.0 M2078.8,621.8 l15.0,-5.0" stroke="#f1f1f1" stroke-width="2" stroke-linecap="round" fill="none" opacity="0.75"/>
<path d="M2077.4,521.3 l12.1,3.2 M2077.4,547.3 l12.1,3.2 M2077.4,573.3 l12.1,3.2 M2077.4,599.3 l12.1,3.2 M2077.4,625.3 l12.1,3.2" stroke="#ededed" stroke-width="1.8" stroke-linecap="round" fill="none" opacity="0.5"/>
<path d="M2107.4,507.6 L2144.3,513.5 L2144.3,662.5 Q2125.9,667.3 2107.4,655.3 Z" fill="url(#coilg)"/>
<path d="M2114.8,529.6 l15.5,-5.0 M2114.8,555.6 l15.5,-5.0 M2114.8,581.6 l15.5,-5.0 M2114.8,607.6 l15.5,-5.0 M2114.8,633.6 l15.5,-5.0" stroke="#f1f1f1" stroke-width="2" stroke-linecap="round" fill="none" opacity="0.75"/>
<path d="M2113.3,533.1 l12.5,3.2 M2113.3,559.1 l12.5,3.2 M2113.3,585.1 l12.5,3.2 M2113.3,611.1 l12.5,3.2 M2113.3,637.1 l12.5,3.2" stroke="#ededed" stroke-width="1.8" stroke-linecap="round" fill="none" opacity="0.5"/>
<path d="M2144.3,513.5 L2182.6,519.8 L2182.6,669.9 Q2163.4,674.6 2144.3,662.5 Z" fill="url(#coilg)"/>
<path d="M2152.0,529.5 l16.1,-5.0 M2152.0,555.5 l16.1,-5.0 M2152.0,581.5 l16.1,-5.0 M2152.0,607.5 l16.1,-5.0 M2152.0,633.5 l16.1,-5.0" stroke="#f1f1f1" stroke-width="2" stroke-linecap="round" fill="none" opacity="0.75"/>
<path d="M2150.4,533.0 l13.0,3.2 M2150.4,559.0 l13.0,3.2 M2150.4,585.0 l13.0,3.2 M2150.4,611.0 l13.0,3.2 M2150.4,637.0 l13.0,3.2" stroke="#ededed" stroke-width="1.8" stroke-linecap="round" fill="none" opacity="0.5"/>
<path d="M2182.6,519.8 L2220.8,525.9 L2220.8,677.3 Q2201.7,682.0 2182.6,669.9 Z" fill="url(#coilg)"/>
<path d="M2190.2,541.8 l16.0,-5.0 M2190.2,567.8 l16.0,-5.0 M2190.2,593.8 l16.0,-5.0 M2190.2,619.8 l16.0,-5.0 M2190.2,645.8 l16.0,-5.0" stroke="#f1f1f1" stroke-width="2" stroke-linecap="round" fill="none" opacity="0.75"/>
<path d="M2188.7,545.3 l13.0,3.2 M2188.7,571.3 l13.0,3.2 M2188.7,597.3 l13.0,3.2 M2188.7,623.3 l13.0,3.2 M2188.7,649.3 l13.0,3.2" stroke="#ededed" stroke-width="1.8" stroke-linecap="round" fill="none" opacity="0.5"/>
<path d="M2220.8,525.9 L2261.6,532.6 L2261.6,685.2 Q2241.2,689.7 2220.8,677.3 Z" fill="url(#coilg)"/>
<path d="M2229.0,541.9 l17.1,-5.0 M2229.0,567.9 l17.1,-5.0 M2229.0,593.9 l17.1,-5.0 M2229.0,619.9 l17.1,-5.0 M2229.0,645.9 l17.1,-5.0" stroke="#f1f1f1" stroke-width="2" stroke-linecap="round" fill="none" opacity="0.75"/>
<path d="M2227.3,545.4 l13.9,3.2 M2227.3,571.4 l13.9,3.2 M2227.3,597.4 l13.9,3.2 M2227.3,623.4 l13.9,3.2 M2227.3,649.4 l13.9,3.2" stroke="#ededed" stroke-width="1.8" stroke-linecap="round" fill="none" opacity="0.5"/>
<path d="M2261.6,532.6 L2302.4,539.2 L2302.4,693.2 Q2282.0,697.6 2261.6,685.2 Z" fill="url(#coilg)"/>
<path d="M2269.8,554.6 l17.1,-5.0 M2269.8,580.6 l17.1,-5.0 M2269.8,606.6 l17.1,-5.0 M2269.8,632.6 l17.1,-5.0 M2269.8,658.6 l17.1,-5.0" stroke="#f1f1f1" stroke-width="2" stroke-linecap="round" fill="none" opacity="0.75"/>
<path d="M2268.1,558.1 l13.9,3.2 M2268.1,584.1 l13.9,3.2 M2268.1,610.1 l13.9,3.2 M2268.1,636.1 l13.9,3.2 M2268.1,662.1 l13.9,3.2" stroke="#ededed" stroke-width="1.8" stroke-linecap="round" fill="none" opacity="0.5"/>
<path d="M2302.4,539.2 L2344.5,546.0 L2344.5,701.3 Q2323.4,705.6 2302.4,693.2 Z" fill="url(#coilg)"/>
<path d="M2310.8,555.2 l17.7,-5.0 M2310.8,581.2 l17.7,-5.0 M2310.8,607.2 l17.7,-5.0 M2310.8,633.2 l17.7,-5.0 M2310.8,659.2 l17.7,-5.0" stroke="#f1f1f1" stroke-width="2" stroke-linecap="round" fill="none" opacity="0.75"/>
<path d="M2309.1,558.7 l14.3,3.2 M2309.1,584.7 l14.3,3.2 M2309.1,610.7 l14.3,3.2 M2309.1,636.7 l14.3,3.2 M2309.1,662.7 l14.3,3.2" stroke="#ededed" stroke-width="1.8" stroke-linecap="round" fill="none" opacity="0.5"/>
<path d="M2344.5,546.0 L2370.0,550.1 L2370.0,706.3 Q2357.2,712.2 2344.5,701.3 Z" fill="url(#coilg)"/>
<path d="M2349.6,568.0 l10.7,-5.0 M2349.6,594.0 l10.7,-5.0 M2349.6,620.0 l10.7,-5.0 M2349.6,646.0 l10.7,-5.0 M2349.6,672.0 l10.7,-5.0" stroke="#f1f1f1" stroke-width="2" stroke-linecap="round" fill="none" opacity="0.75"/>
<path d="M2348.6,571.5 l8.7,3.2 M2348.6,597.5 l8.7,3.2 M2348.6,623.5 l8.7,3.2 M2348.6,649.5 l8.7,3.2 M2348.6,675.5 l8.7,3.2" stroke="#ededed" stroke-width="1.8" stroke-linecap="round" fill="none" opacity="0.5"/>
<path d="M1599,760.8 L1606,759.3 L2011,682.3 L2410,772.5 L2414,773" stroke="#858585" stroke-width="2.4" fill="none" opacity="0.9"/>
<path d="M1648,540.5 L2010,491 L2370,548" stroke="#cacaca" stroke-width="2.2" fill="none"/>
<path d="M1598.5,463 Q1598.5,444 1617,440.5 L1650.7,436.4 L2015.5,394 L2200,422.2 L2387.5,445.4 Q2414,448 2424,460 Q2429,468 2428.4,478 L2426,505 Q2424.5,514 2414,512.3 L2015.5,449 L1613,503.5 Q1603,504 1601.5,493 Z" fill="url(#latexg)" stroke="#dcdcdc" stroke-width="1.2"/>
<path d="M1613,502 L2015.5,447.5 L2414,510.8" stroke="#e6e6e6" stroke-width="3" fill="none"/>
</g>
<text x="1308.3" y="433.8" class="dim" textLength="24.7" lengthAdjust="spacingAndGlyphs">9</text>
<text x="1341.0" y="433.8" class="dim" textLength="65.5" lengthAdjust="spacingAndGlyphs">cm</text>
<text x="1308.6" y="585.0" class="dim" textLength="23.6" lengthAdjust="spacingAndGlyphs">2</text>
<text x="1329.6" y="585.0" class="dim" textLength="13.2" lengthAdjust="spacingAndGlyphs">1</text>
<text x="1351.5" y="585.0" class="dim" textLength="65.0" lengthAdjust="spacingAndGlyphs">cm</text>
<text x="1316.8" y="841.6" class="dim" textLength="47.8" lengthAdjust="spacingAndGlyphs">28</text>
<text x="1372.2" y="841.6" class="dim" textLength="65.8" lengthAdjust="spacingAndGlyphs">cm</text>
<circle cx="1724.1" cy="393.8" r="34.0" class="halo2" filter="url(#soft)"/>
<circle cx="1724.1" cy="393.8" r="32.0" class="disc"/>
<path class="g1" d="M1735.00,413.60 L1726.60,413.60 L1726.60,386.40 Q1722.20,390.00 1716.70,391.70 L1716.70,384.50 Q1725.40,381.20 1728.40,374.60 L1735.00,374.60 Z"/>
<circle cx="1494.7" cy="442.9" r="34.0" class="halo2" filter="url(#soft)"/>
<circle cx="1494.7" cy="442.9" r="32.0" class="disc"/>
<text x="1498.7" y="462.7" class="num">2</text>
<circle cx="1811.3" cy="450.0" r="34.0" class="halo2" filter="url(#soft)"/>
<circle cx="1811.3" cy="450.0" r="32.0" class="disc"/>
<text x="1815.3" y="469.8" class="num">3</text>
<circle cx="1718.3" cy="516.4" r="34.0" class="halo2" filter="url(#soft)"/>
<circle cx="1718.3" cy="516.4" r="32.0" class="disc"/>
<text x="1722.3" y="536.2" class="num">4</text>
<circle cx="2008.1" cy="509.3" r="34.0" class="halo2" filter="url(#soft)"/>
<circle cx="2008.1" cy="509.3" r="32.0" class="disc"/>
<text x="2012.1" y="529.1" class="num">5</text>
<circle cx="1650.0" cy="711.8" r="34.0" class="halo2" filter="url(#soft)"/>
<circle cx="1650.0" cy="711.8" r="32.0" class="disc"/>
<text x="1654.0" y="731.6" class="num">6</text>
<circle cx="1839.3" cy="602.5" r="34.0" class="halo2" filter="url(#soft)"/>
<circle cx="1839.3" cy="602.5" r="32.0" class="disc"/>
<text x="1843.3" y="622.3" class="num">7</text>
<circle cx="1985.4" cy="743.6" r="34.0" class="halo2" filter="url(#soft)"/>
<circle cx="1985.4" cy="743.6" r="32.0" class="disc"/>
<text x="1989.4" y="763.4" class="num">8</text>
<circle cx="1649.1" cy="813.8" r="34.0" class="halo2" filter="url(#soft)"/>
<circle cx="1649.1" cy="813.8" r="32.0" class="disc"/>
<text x="1653.1" y="833.6" class="num">9</text>
<circle cx="1752.7" cy="855.6" r="34.0" class="halo2" filter="url(#soft)"/>
<circle cx="1752.7" cy="855.6" r="32.0" class="disc"/>
<path class="g1" d="M1743.60,875.40 L1735.20,875.40 L1735.20,848.20 Q1730.80,851.80 1725.30,853.50 L1725.30,846.30 Q1734.00,843.00 1737.00,836.40 L1743.60,836.40 Z"/>
<text transform="translate(1751.7,875.4) scale(0.95,1)" class="num2">0</text>
<circle cx="1984.9" cy="885.0" r="34.0" class="halo2" filter="url(#soft)"/>
<circle cx="1984.9" cy="885.0" r="32.0" class="disc"/>
<path class="g1" d="M1978.60,904.80 L1970.20,904.80 L1970.20,877.60 Q1965.80,881.20 1960.30,882.90 L1960.30,875.70 Q1969.00,872.40 1972.00,865.80 L1978.60,865.80 Z"/>
<path class="g1" d="M2006.00,904.80 L1997.60,904.80 L1997.60,877.60 Q1993.20,881.20 1987.70,882.90 L1987.70,875.70 Q1996.40,872.40 1999.40,865.80 L2006.00,865.80 Z"/>
<circle cx="1829.3" cy="1087.2" r="34.0" class="halo2" filter="url(#soft)"/>
<circle cx="1829.3" cy="1087.2" r="32.0" class="disc"/>
<path class="g1" d="M1820.20,1107.00 L1811.80,1107.00 L1811.80,1079.80 Q1807.40,1083.40 1801.90,1085.10 L1801.90,1077.90 Q1810.60,1074.60 1813.60,1068.00 L1820.20,1068.00 Z"/>
<text transform="translate(1827.4,1107.0) scale(0.95,1)" class="num2">2</text>
<circle cx="1416.8" cy="1051.6" r="34.0" class="halo2" filter="url(#soft)"/>
<circle cx="1416.8" cy="1051.6" r="32.0" class="disc"/>
<path class="g1" d="M1409.40,1071.40 L1401.00,1071.40 L1401.00,1044.20 Q1396.60,1047.80 1391.10,1049.50 L1391.10,1042.30 Q1399.80,1039.00 1402.80,1032.40 L1409.40,1032.40 Z"/>
<text transform="translate(1417.8,1071.4) scale(0.95,1)" class="num2">3</text>
<g id="legend">
<circle cx="70.5" cy="234.8" r="34.0" class="halo" filter="url(#soft)"/>
<circle cx="70.5" cy="234.8" r="32.0" class="disc"/>
<path class="g1" d="M81.40,254.55 L73.00,254.55 L73.00,227.35 Q68.60,230.95 63.10,232.65 L63.10,225.45 Q71.80,222.15 74.80,215.55 L81.40,215.55 Z"/>
<text x="131.7" y="252.0" class="lbl" textLength="290.2" lengthAdjust="spacingAndGlyphs">Stretch fabric</text>
<circle cx="70.5" cy="312.8" r="34.0" class="halo" filter="url(#soft)"/>
<circle cx="70.5" cy="312.8" r="32.0" class="disc"/>
<text x="74.5" y="332.6" class="num">2</text>
<text x="131.7" y="334.0" class="lbl" textLength="134.9" lengthAdjust="spacingAndGlyphs">Fabric</text>
<circle cx="70.5" cy="392.7" r="34.0" class="halo" filter="url(#soft)"/>
<circle cx="70.5" cy="392.7" r="32.0" class="disc"/>
<text x="74.5" y="412.5" class="num">3</text>
<text x="131.7" y="416.0" class="lbl" textLength="114.3" lengthAdjust="spacingAndGlyphs">Latex</text>
<circle cx="70.5" cy="473.6" r="34.0" class="halo" filter="url(#soft)"/>
<circle cx="70.5" cy="473.6" r="32.0" class="disc"/>
<text x="74.5" y="493.4" class="num">4</text>
<text x="131.7" y="498.0" class="lbl" textLength="310.3" lengthAdjust="spacingAndGlyphs">Foam VB 3040</text>
<circle cx="70.5" cy="553.8" r="34.0" class="halo" filter="url(#soft)"/>
<circle cx="70.5" cy="553.8" r="32.0" class="disc"/>
<text x="74.5" y="573.6" class="num">5</text>
<text x="131.7" y="580.0" class="lbl" textLength="230.0" lengthAdjust="spacingAndGlyphs">Nonwoven</text>
<circle cx="70.5" cy="638.1" r="34.0" class="halo" filter="url(#soft)"/>
<circle cx="70.5" cy="638.1" r="32.0" class="disc"/>
<text x="74.5" y="657.9" class="num">6</text>
<text x="131.7" y="662.0" class="lbl" textLength="310.3" lengthAdjust="spacingAndGlyphs">Foam VB 3040</text>
<circle cx="70.5" cy="723.7" r="34.0" class="halo" filter="url(#soft)"/>
<circle cx="70.5" cy="723.7" r="32.0" class="disc"/>
<text x="74.5" y="743.5" class="num">7</text>
<text x="131.7" y="744.0" class="lbl" textLength="914.3" lengthAdjust="spacingAndGlyphs">Pocket 7 zones; Wire medium/fast H-15 cm</text>
<circle cx="70.5" cy="807.8" r="34.0" class="halo" filter="url(#soft)"/>
<circle cx="70.5" cy="807.8" r="32.0" class="disc"/>
<text x="74.5" y="827.6" class="num">8</text>
<text x="131.7" y="826.0" class="lbl" textLength="310.3" lengthAdjust="spacingAndGlyphs">Foam VB 3040</text>
<circle cx="70.5" cy="890.0" r="34.0" class="halo" filter="url(#soft)"/>
<circle cx="70.5" cy="890.0" r="32.0" class="disc"/>
<text x="74.5" y="909.8" class="num">9</text>
<text x="131.7" y="908.0" class="lbl" textLength="310.3" lengthAdjust="spacingAndGlyphs">Foam VB 3040</text>
<circle cx="70.5" cy="972.8" r="34.0" class="halo" filter="url(#soft)"/>
<circle cx="70.5" cy="972.8" r="32.0" class="disc"/>
<path class="g1" d="M61.40,992.60 L53.00,992.60 L53.00,965.40 Q48.60,969.00 43.10,970.70 L43.10,963.50 Q51.80,960.20 54.80,953.60 L61.40,953.60 Z"/>
<text transform="translate(69.5,992.6) scale(0.95,1)" class="num2">0</text>
<text x="131.7" y="990.0" class="lbl" textLength="329.5" lengthAdjust="spacingAndGlyphs">Pocket H-12 cm</text>
<circle cx="70.5" cy="1054.9" r="34.0" class="halo" filter="url(#soft)"/>
<circle cx="70.5" cy="1054.9" r="32.0" class="disc"/>
<path class="g1" d="M64.20,1074.70 L55.80,1074.70 L55.80,1047.50 Q51.40,1051.10 45.90,1052.80 L45.90,1045.60 Q54.60,1042.30 57.60,1035.70 L64.20,1035.70 Z"/>
<path class="g1" d="M91.60,1074.70 L83.20,1074.70 L83.20,1047.50 Q78.80,1051.10 73.30,1052.80 L73.30,1045.60 Q82.00,1042.30 85.00,1035.70 L91.60,1035.70 Z"/>
<text x="131.7" y="1072.0" class="lbl" textLength="230.0" lengthAdjust="spacingAndGlyphs">Nonwoven</text>
<circle cx="70.5" cy="1137.8" r="34.0" class="halo" filter="url(#soft)"/>
<circle cx="70.5" cy="1137.8" r="32.0" class="disc"/>
<path class="g1" d="M61.40,1157.60 L53.00,1157.60 L53.00,1130.40 Q48.60,1134.00 43.10,1135.70 L43.10,1128.50 Q51.80,1125.20 54.80,1118.60 L61.40,1118.60 Z"/>
<text transform="translate(68.6,1157.6) scale(0.95,1)" class="num2">2</text>
<text x="133.5" y="1154.0" class="lbl" textLength="399.9" lengthAdjust="spacingAndGlyphs">Wood frame 12 cm</text>
<circle cx="70.5" cy="1220.0" r="34.0" class="halo" filter="url(#soft)"/>
<circle cx="70.5" cy="1220.0" r="32.0" class="disc"/>
<path class="g1" d="M63.10,1239.80 L54.70,1239.80 L54.70,1212.60 Q50.30,1216.20 44.80,1217.90 L44.80,1210.70 Q53.50,1207.40 56.50,1200.80 L63.10,1200.80 Z"/>
<text transform="translate(71.5,1239.8) scale(0.95,1)" class="num2">3</text>
<text x="131.7" y="1236.0" class="lbl" textLength="511.2" lengthAdjust="spacingAndGlyphs">Metal chrome leg 15 cm</text>
</g>
</g>
</svg>
</body>
</html>
